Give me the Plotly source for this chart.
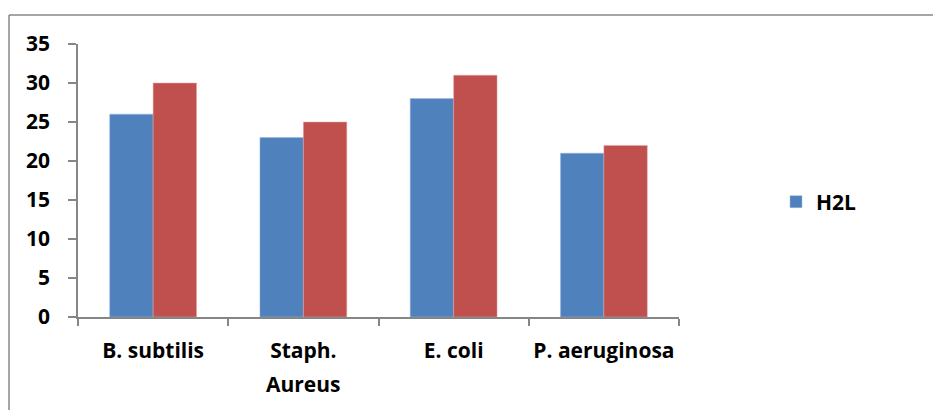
import plotly.graph_objects as go

categories = ["B. subtilis", "Staph. Aureus", "E. coli", "P. aeruginosa"]
tick_line1 = ["B. subtilis", "Staph.", "E. coli", "P. aeruginosa"]
tick_line2 = ["", "Aureus", "", ""]
h2l_values = [26, 23, 28, 21]
second_values = [30, 25, 31, 22]
y_ticks = [0, 5, 10, 15, 20, 25, 30, 35]

W, H = 934, 410
L, R, T, B = 78, 679, 44, 317  # plot area pixel edges

def px_x(p):
    return (p - L) / (R - L)

def px_y(p):
    return (B - p) / (B - T)

fig = go.Figure()
fig.add_trace(go.Bar(x=categories, y=h2l_values, name="H2L",
                     marker=dict(color="#4F81BD", line=dict(color="#9FB8DA", width=0.5))))
fig.add_trace(go.Bar(x=categories, y=second_values, name="", showlegend=False,
                     marker=dict(color="#C0504D", line=dict(color="#E0A8A6", width=0.5))))

font_family = "'Open Sans', sans-serif"
fs = 21
tfont = dict(family=font_family, size=fs, color="black", weight="bold")

annotations = [
    dict(x=c, y=px_y(384), xref="x", yref="paper", text=t, showarrow=False,
         xanchor="center", yanchor="middle", font=tfont)
    for c, t in zip(categories, tick_line2) if t
]

fig.update_layout(
    width=W, height=H,
    margin=dict(l=L, r=W - R, t=T, b=H - B, pad=0, autoexpand=False),
    paper_bgcolor="white", plot_bgcolor="white",
    barmode="group", bargap=0.422, bargroupgap=0,
    font=tfont,
    showlegend=True,
    legend=dict(x=px_x(776), y=px_y(202), xanchor="left", yanchor="middle",
                font=tfont, itemwidth=30, bgcolor="rgba(0,0,0,0)"),
    xaxis=dict(showline=True, linecolor="#868686", linewidth=1.5,
               ticks="outside", ticklen=7, tickcolor="#868686", tickwidth=1.5,
               tickson="boundaries", showgrid=False, zeroline=False,
               tickangle=0, automargin=False,
               tickmode="array", tickvals=categories, ticktext=tick_line1,
               tickfont=tfont, ticklabelstandoff=14),
    yaxis=dict(range=[0, 35], tickvals=y_ticks, showline=True, linecolor="#868686",
               linewidth=1.5, ticks="outside", ticklen=8, tickcolor="#868686",
               tickwidth=1.5, showgrid=False, zeroline=False, automargin=False,
               tickfont=tfont, ticklabelstandoff=14),
    annotations=annotations,
    shapes=[
        dict(type="line", xref="paper", yref="paper",
             x0=px_x(9), x1=px_x(933), y0=px_y(15), y1=px_y(15),
             line=dict(color="#878787", width=1.5)),
        dict(type="line", xref="paper", yref="paper",
             x0=px_x(9), x1=px_x(9), y0=px_y(15), y1=px_y(412),
             line=dict(color="#878787", width=1.5)),
    ],
)

fig.write_html("out.html")
